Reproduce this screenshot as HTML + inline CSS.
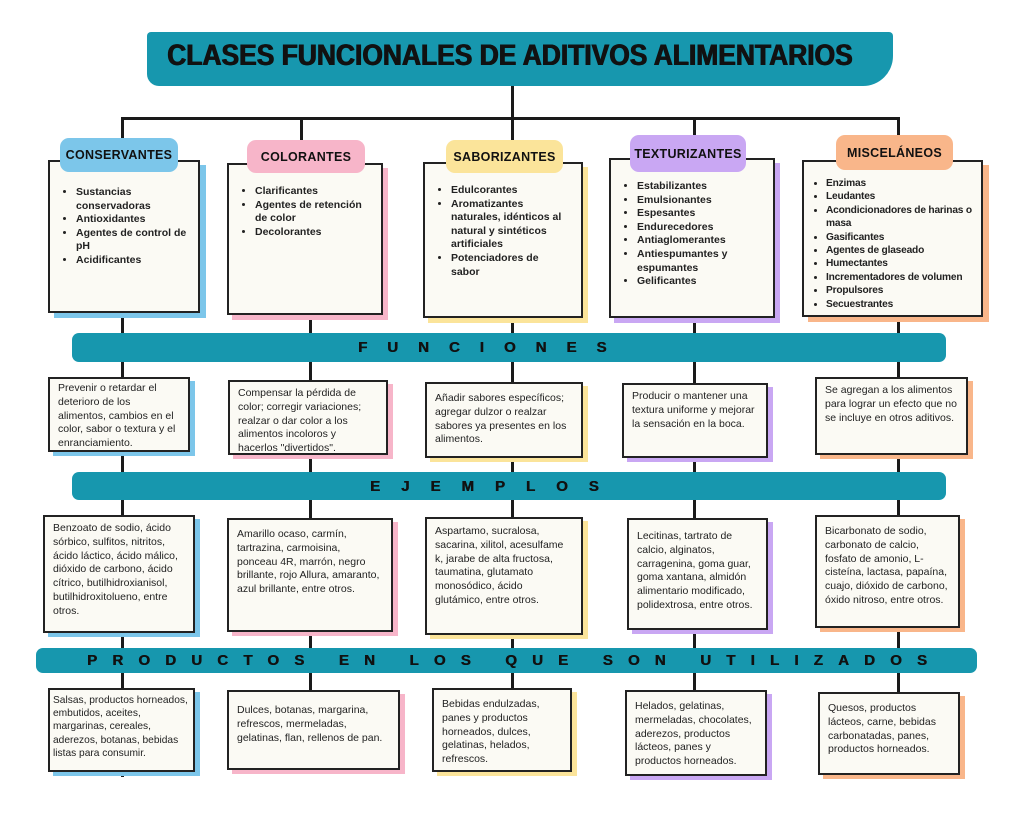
<!DOCTYPE html>
<html><head><meta charset="utf-8"><style>
body{margin:0;width:1024px;height:815px;background:#fff;position:relative;overflow:hidden;font-family:"Liberation Sans",sans-serif;color:#222}
.a{position:absolute}
.ln{position:absolute;background:#1a1a1a}
.box{position:absolute;background:#fbfaf4;border:2.5px solid #222;box-sizing:border-box;font-size:10.5px;line-height:13.8px;padding:6px 8px}
.tag{position:absolute;border-radius:9px;font-weight:bold;font-size:12.5px;text-align:center;display:flex;align-items:center;justify-content:center;color:#111;letter-spacing:0.3px}
.bar{position:absolute;background:#1797ae;border-radius:7px;font-weight:bold;font-size:15px;color:#111;display:flex;align-items:center;justify-content:flex-start;white-space:nowrap;box-sizing:border-box;text-shadow:0.5px 0 0 #111}
ul{margin:0;padding-left:18px;font-weight:bold;font-size:10.5px;line-height:13.6px}
li{margin:0}
</style></head><body>
<div class="a" style="left:147px;top:32px;width:746px;height:54px;background:#1797ae;border-radius:4px 4px 30px 12px"></div>
<div class="a" style="left:110px;top:39px;width:800px;text-align:center;font-weight:bold;font-size:30px;color:#111;transform:scaleX(0.88);transform-origin:center;text-shadow:0.6px 0 0 #111,-0.6px 0 0 #111">CLASES FUNCIONALES DE ADITIVOS ALIMENTARIOS</div>
<div class="ln" style="left:511px;top:86px;width:3px;height:33px"></div>
<div class="ln" style="left:121px;top:117px;width:779px;height:3px"></div>
<div class="ln" style="left:121px;top:117px;width:3px;height:660px"></div>
<div class="ln" style="left:300px;top:117px;width:3px;height:50px"></div>
<div class="ln" style="left:309px;top:300px;width:3px;height:400px"></div>
<div class="ln" style="left:511px;top:117px;width:3px;height:600px"></div>
<div class="ln" style="left:693px;top:117px;width:3px;height:600px"></div>
<div class="ln" style="left:897px;top:117px;width:3px;height:600px"></div>

<!-- row1 -->
<div class="box" style="left:48px;top:160px;width:152px;height:153px;box-shadow:6px 5px 0 #7cc6ea;padding-top:24px"><ul><li>Sustancias conservadoras</li><li>Antioxidantes</li><li>Agentes de control de pH</li><li>Acidificantes</li></ul></div>
<div class="tag" style="left:60px;top:138px;width:118px;height:34px;background:#7cc6ea">CONSERVANTES</div>
<div class="box" style="left:227px;top:163px;width:156px;height:152px;box-shadow:5px 5px 0 #f7b5c9;padding-top:20px"><ul><li>Clarificantes</li><li>Agentes de retención de color</li><li>Decolorantes</li></ul></div>
<div class="tag" style="left:247px;top:140px;width:118px;height:33px;background:#f7b5c9">COLORANTES</div>
<div class="box" style="left:423px;top:162px;width:160px;height:156px;box-shadow:5px 5px 0 #fbe49a;padding-top:20px"><ul style="padding-right:8px"><li>Edulcorantes</li><li>Aromatizantes naturales, idénticos al natural y sintéticos artificiales</li><li>Potenciadores de sabor</li></ul></div>
<div class="tag" style="left:446px;top:140px;width:117px;height:33px;background:#fbe49a">SABORIZANTES</div>
<div class="box" style="left:609px;top:158px;width:166px;height:160px;box-shadow:5px 5px 0 #c9a7f3;padding-top:20px"><ul><li>Estabilizantes</li><li>Emulsionantes</li><li>Espesantes</li><li>Endurecedores</li><li>Antiaglomerantes</li><li>Antiespumantes y espumantes</li><li>Gelificantes</li></ul></div>
<div class="tag" style="left:630px;top:135px;width:116px;height:37px;background:#c9a7f3">TEXTURIZANTES</div>
<div class="box" style="left:802px;top:160px;width:181px;height:157px;box-shadow:6px 5px 0 #f9b68a;padding:15px 4px 0 6px"><ul style="font-size:10.2px;letter-spacing:-0.2px;padding-left:16px;line-height:13.4px"><li>Enzimas</li><li>Leudantes</li><li>Acondicionadores de harinas o masa</li><li>Gasificantes</li><li>Agentes de glaseado</li><li>Humectantes</li><li style="white-space:nowrap">Incrementadores de volumen</li><li>Propulsores</li><li>Secuestrantes</li></ul></div>
<div class="tag" style="left:836px;top:135px;width:117px;height:35px;background:#f9b68a">MISCELÁNEOS</div>

<div class="bar" style="left:72px;top:333px;width:874px;height:29px;letter-spacing:20px;padding-left:286px">FUNCIONES</div>

<div class="box" style="left:48px;top:377px;width:142px;height:75px;box-shadow:5px 4px 0 #7cc6ea;padding-top:3px">Prevenir o retardar el deterioro de los alimentos, cambios en el color, sabor o textura y el enranciamiento.</div>
<div class="box" style="left:228px;top:380px;width:160px;height:75px;box-shadow:5px 4px 0 #f7b5c9;padding-top:5px">Compensar la pérdida de color; corregir variaciones; realzar o dar color a los alimentos incoloros y hacerlos "divertidos".</div>
<div class="box" style="left:425px;top:382px;width:158px;height:76px;box-shadow:5px 4px 0 #fbe49a;padding-top:8px">Añadir sabores específicos; agregar dulzor o realzar sabores ya presentes en los alimentos.</div>
<div class="box" style="left:622px;top:383px;width:146px;height:75px;box-shadow:5px 4px 0 #c9a7f3;padding-top:5px">Producir o mantener una textura uniforme y mejorar la sensación en la boca.</div>
<div class="box" style="left:815px;top:377px;width:153px;height:78px;box-shadow:5px 4px 0 #f9b68a;padding-top:5px">Se agregan a los alimentos para lograr un efecto que no se incluye en otros aditivos.</div>

<div class="bar" style="left:72px;top:472px;width:874px;height:28px;letter-spacing:21px;padding-left:298px">EJEMPLOS</div>

<div class="box" style="left:43px;top:515px;width:152px;height:118px;box-shadow:5px 4px 0 #7cc6ea;padding-top:5px">Benzoato de sodio, ácido sórbico, sulfitos, nitritos, ácido láctico, ácido málico, dióxido de carbono, ácido cítrico, butilhidroxianisol, butilhidroxitolueno, entre otros.</div>
<div class="box" style="left:227px;top:518px;width:166px;height:114px;box-shadow:5px 4px 0 #f7b5c9;padding-top:8px">Amarillo ocaso, carmín, tartrazina, carmoisina, ponceau 4R, marrón, negro brillante, rojo Allura, amaranto, azul brillante, entre otros.</div>
<div class="box" style="left:425px;top:517px;width:158px;height:118px;box-shadow:5px 4px 0 #fbe49a;padding-top:6px">Aspartamo, sucralosa, sacarina, xilitol, acesulfame k, jarabe de alta fructosa, taumatina, glutamato monosódico, ácido glutámico, entre otros.</div>
<div class="box" style="left:627px;top:518px;width:141px;height:112px;box-shadow:5px 4px 0 #c9a7f3;padding-top:10px">Lecitinas, tartrato de calcio, alginatos, carragenina, goma guar, goma xantana, almidón alimentario modificado, polidextrosa, entre otros.</div>
<div class="box" style="left:815px;top:515px;width:145px;height:113px;box-shadow:5px 4px 0 #f9b68a;padding-top:8px">Bicarbonato de sodio, carbonato de calcio, fosfato de amonio, L-cisteína, lactasa, papaína, cuajo, dióxido de carbono, óxido nitroso, entre otros.</div>

<div class="bar" style="left:36px;top:648px;width:941px;height:25px;letter-spacing:15.2px;padding-left:51px">PRODUCTOS EN LOS QUE SON UTILIZADOS</div>

<div class="box" style="left:48px;top:688px;width:147px;height:84px;box-shadow:5px 4px 0 #7cc6ea;padding:4px 3px;font-size:10.2px;line-height:13.2px">Salsas, productos horneados, embutidos, aceites, margarinas, cereales, aderezos, botanas, bebidas listas para consumir.</div>
<div class="box" style="left:227px;top:690px;width:173px;height:80px;box-shadow:5px 4px 0 #f7b5c9;padding-top:12px">Dulces, botanas, margarina, refrescos, mermeladas, gelatinas, flan, rellenos de pan.</div>
<div class="box" style="left:432px;top:688px;width:140px;height:84px;box-shadow:5px 4px 0 #fbe49a;padding-top:8px">Bebidas endulzadas, panes y productos horneados, dulces, gelatinas, helados, refrescos.</div>
<div class="box" style="left:625px;top:690px;width:142px;height:86px;box-shadow:5px 4px 0 #c9a7f3;padding-top:8px">Helados, gelatinas, mermeladas, chocolates, aderezos, productos lácteos, panes y productos horneados.</div>
<div class="box" style="left:818px;top:692px;width:142px;height:83px;box-shadow:5px 4px 0 #f9b68a;padding-top:8px">Quesos, productos lácteos, carne, bebidas carbonatadas, panes, productos horneados.</div>
</body></html>
